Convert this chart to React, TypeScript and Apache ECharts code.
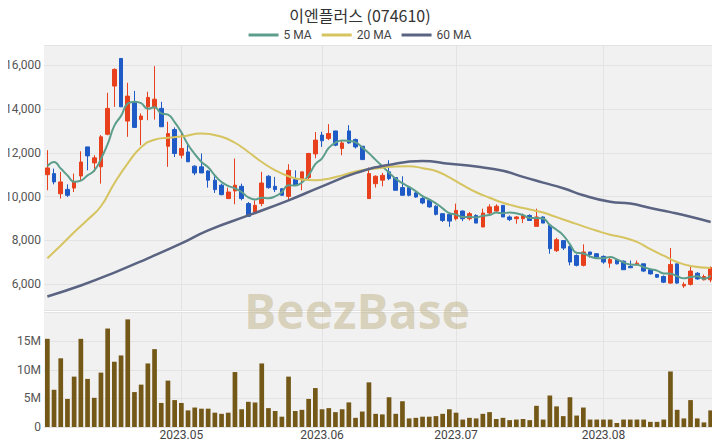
import React, { useEffect, useRef } from "react";
import * as echarts from "echarts";

const chartTitle = "이엔플러스 (074610)";

const opens = [
  11000, 11050, 10130, 10330, 10390, 10940, 12270, 11540, 11360, 12850,
  15050, 16310, 13450, 14330, 13520, 14100, 14060, 14030, 12300, 13060,
  11890, 12040, 11390, 11360, 11170, 10750, 10520, 9910, 10260, 10470,
  9680, 9300, 9680, 10930, 10470, 10360, 10010, 10780, 10820, 10870,
  11950, 12810, 12650, 13000, 12200, 13000, 12610, 12300, 9910, 10590,
  10750, 11130, 10870, 10410, 10410, 10170, 9910, 9830, 9560, 9220,
  9190, 8990, 9340, 8990, 9140, 8610, 9250, 9340, 9600, 9070,
  8990, 8990, 9140, 8640, 9070, 8690, 7530, 7990, 7720, 7310,
  6860, 7470, 7390, 7270, 6960, 7110, 7050, 6810, 6900, 6930,
  6660, 6440, 6350, 6050, 6930, 5920, 5990, 6500, 6200, 6200,
];
const closes = [
  11310, 10670, 10670, 10060, 10670, 11580, 11860, 11770, 12730, 14030,
  15810, 14100, 14590, 13160, 13680, 14530, 14450, 13190, 12880, 11970,
  12200, 11590, 11080, 11080, 10750, 10320, 10090, 10210, 10520, 9910,
  9100, 9600, 10620, 10410, 10320, 10060, 11200, 10520, 11130, 11970,
  12580, 12550, 12880, 12350, 12450, 12450, 12270, 11690, 11050, 10930,
  10970, 10820, 10290, 10060, 10060, 9980, 9710, 9530, 9190, 8910,
  8880, 9370, 8990, 9220, 8790, 9250, 9530, 9560, 9070, 8950,
  9070, 9140, 8910, 9070, 8790, 7620, 8030, 7650, 7010, 6860,
  7470, 7360, 7240, 7010, 7130, 6930, 6660, 6750, 6960, 6600,
  6470, 6320, 6090, 6900, 6050, 5990, 6600, 6240, 6350, 6750,
];
const lows = [
  10290, 10560, 9910, 9980, 10210, 10750, 11200, 11130, 10590, 12800,
  14100, 14100, 12730, 13160, 12350, 13490, 13520, 13190, 11360, 11810,
  11740, 11590, 10980, 11080, 10410, 10170, 10060, 9910, 9650, 9830,
  9100, 9250, 9560, 10360, 10210, 10060, 9830, 10520, 10290, 10750,
  11750, 12270, 12580, 12300, 11890, 12420, 12200, 11690, 9910, 10410,
  10470, 10750, 10290, 10060, 10010, 9950, 9650, 9490, 9140, 8840,
  8620, 8910, 8880, 8910, 8790, 8610, 9190, 9300, 9070, 8880,
  8760, 8790, 8910, 8640, 8790, 7390, 7470, 7560, 6860, 6810,
  6810, 7210, 7210, 6930, 6750, 6900, 6660, 6750, 6860, 6550,
  6440, 6290, 6050, 6020, 6020, 5830, 5940, 6200, 6170, 6090,
];
const highs = [
  12120, 11280, 11130, 10560, 11050, 12070, 12270, 11890, 12810, 14740,
  15860, 16310, 15200, 14830, 13800, 14790, 15960, 14330, 13420, 13160,
  12960, 12420, 11430, 11970, 11200, 10930, 10590, 10410, 11740, 10590,
  9750, 9830, 11130, 10980, 10900, 10360, 11480, 11200, 11130, 12000,
  12950, 12960, 13310, 13000, 12580, 13260, 12650, 12300, 11330, 10970,
  11080, 11660, 10870, 10930, 10470, 10260, 10010, 9860, 9600, 9250,
  9220, 9680, 9370, 9300, 9190, 9450, 9650, 9650, 9600, 9140,
  9100, 9220, 9190, 9450, 9100, 8690, 8120, 8000, 7770, 7360,
  7820, 7470, 7420, 7310, 7210, 7160, 7080, 7080, 7080, 6930,
  6700, 6470, 6400, 7650, 6930, 6090, 6810, 6550, 6440, 6810,
];
// trading volume, millions of shares
const volumesM = [
  15.4, 6.5, 12.0, 4.9, 8.8, 15.4, 8.4, 5.1, 9.5, 17.2,
  11.4, 12.5, 18.8, 6.1, 7.4, 11.1, 13.6, 4.2, 8.1, 4.7,
  4.2, 2.9, 3.4, 3.2, 3.2, 2.5, 2.3, 2.5, 9.6, 3.1,
  4.4, 4.3, 11.1, 3.3, 2.8, 1.8, 8.8, 2.8, 3.0, 4.9,
  6.8, 3.1, 3.3, 2.6, 3.1, 4.3, 1.6, 2.7, 7.8, 2.3,
  2.2, 5.2, 2.3, 4.5, 1.5, 1.6, 1.8, 1.8, 1.9, 2.3,
  3.1, 2.5, 1.3, 1.6, 1.5, 2.3, 2.6, 1.4, 1.6, 1.2,
  1.3, 1.4, 1.2, 3.7, 1.3, 5.5, 3.6, 1.9, 5.2, 2.0,
  3.4, 1.3, 1.3, 1.3, 1.3, 0.7, 1.3, 1.3, 1.3, 1.3,
  0.9, 0.9, 1.3, 9.7, 3.0, 1.5, 4.7, 1.5, 0.8, 2.9,
];
// 5-day MA for the first four days (earlier closes are not shown)
const ma5Head = [11390, 11580, 11280, 10970];
// [day index, value] read from the 20 MA and 60 MA curves
const ma20Points = [
  [0, 7180], [2, 7770], [4, 8370], [6, 8940], [8, 9560], [10, 10610],
  [12, 11520], [14, 12260], [16, 12600], [18, 12690], [20, 12740], [23, 12880],
  [26, 12730], [28, 12460], [30, 12040], [32, 11580], [34, 11200], [36, 10930],
  [38, 10780], [40, 10750], [42, 10820], [44, 10970], [46, 11150], [48, 11250],
  [50, 11320], [52, 11380], [54, 11390], [56, 11300], [58, 11170], [60, 10880],
  [62, 10520], [64, 10200], [66, 9950], [68, 9720], [70, 9550], [72, 9410],
  [74, 9270], [76, 9060], [78, 8850], [80, 8640], [82, 8440], [84, 8260],
  [86, 8130], [88, 7930], [90, 7600], [92, 7300], [94, 7010], [96, 6830], [99, 6740],
];
const ma60Points = [
  [0, 5440], [5, 5940], [10, 6530], [15, 7180], [20, 7860], [24, 8460],
  [30, 9140], [36, 9830], [41, 10470], [46, 11070], [51, 11450], [56, 11630],
  [60, 11500], [64, 11370], [68, 11180], [71, 10900], [74, 10640], [77, 10380],
  [80, 10060], [84, 9760], [87, 9680], [90, 9480], [93, 9290], [96, 9080], [99, 8840],
];
const xTickIndex = [20, 41, 61, 83];
const xTickLabels = ["2023.05", "2023.06", "2023.07", "2023.08"];
const legendNames = ["5 MA", "20 MA", "60 MA"];

const UP = "#e8401c";
const DOWN = "#1f5bc6";
const VOL = "#735818";
const MA_COLORS = ["#5c9e8b", "#d6c460", "#5a6381"];

export default function App() {
  const ref = useRef<HTMLDivElement>(null);
  useEffect(() => {
    if (!ref.current) return;
    const chart = echarts.init(ref.current, undefined, { renderer: "svg" });
    const categories = closes.map((_, i) => String(i));
    const candles = opens.map((o, i) => [o, closes[i], lows[i], highs[i]]);
    const ma5 = closes.map((_, i) => {
      if (i < 4) return ma5Head[i];
      let s = 0;
      for (let k = i - 4; k <= i; k++) s += closes[k];
      return Math.round(s / 5);
    });
    const tickSet = new Set(xTickIndex);
    const showTick = (idx: number) => tickSet.has(idx);
    const labelFor = (_v: string, idx: number) => {
      const p = xTickIndex.indexOf(idx);
      return p >= 0 ? xTickLabels[p] : "";
    };
    const gridLine = { show: true, interval: showTick, alignWithLabel: true, lineStyle: { color: "#e3e3e3", width: 1 } } as any;
    const font = "Roboto, 'Noto Sans', sans-serif";
    chart.setOption({
      animation: false,
      textStyle: { fontFamily: font },
      title: {
        text: chartTitle,
        left: "center",
        top: 2,
        textStyle: { fontSize: 16, fontWeight: "normal", color: "#333", fontFamily: "'Noto Sans CJK KR', Roboto, sans-serif" },
      },
      legend: {
        data: legendNames.map((n) => ({ name: n, icon: "rect" })),
        top: 24,
        left: "center",
        itemWidth: 30,
        itemHeight: 3,
        itemGap: 10,
        textStyle: { fontSize: 12, color: "#444" },
      },
      graphic: [
        {
          type: "text",
          x: 357,
          y: 310,
          z: 1,
          silent: true,
          style: {
            text: "BeezBase",
            font: "bold 48px 'Open Sans', sans-serif",
            fill: "rgba(185,170,120,0.45)",
            align: "center",
            verticalAlign: "middle",
          },
        },
      ],
      grid: [
        { left: 44, right: 6, top: 45, height: 265, show: true, backgroundColor: "#f1f1f1", borderWidth: 0 },
        { left: 44, right: 6, top: 312.5, height: 114.5, show: true, backgroundColor: "#f1f1f1", borderWidth: 0 },
      ],
      xAxis: [
        {
          type: "category",
          gridIndex: 0,
          data: categories,
          boundaryGap: true,
          axisLine: { show: false },
          axisTick: { show: false },
          axisLabel: { show: false },
          splitLine: gridLine,
        },
        {
          type: "category",
          gridIndex: 1,
          data: categories,
          boundaryGap: true,
          axisLine: { show: false },
          axisTick: { show: false },
          axisLabel: { show: true, interval: showTick, formatter: labelFor, fontSize: 12, color: "#444", margin: 2 },
          splitLine: gridLine,
        },
      ],
      yAxis: [
        {
          type: "value",
          gridIndex: 0,
          min: 4820,
          max: 16925,
          axisLine: { show: false },
          axisTick: { show: false },
          axisLabel: {
            fontSize: 12,
            color: "#555",
            margin: 3,
            showMinLabel: false,
            showMaxLabel: false,
            formatter: (v: number) => v.toLocaleString("en-US"),
          },
          splitLine: { show: true, lineStyle: { color: "#e3e3e3", width: 1 } },
        },
        {
          type: "value",
          gridIndex: 1,
          min: 0,
          max: 20,
          interval: 5,
          axisLine: { show: false },
          axisTick: { show: false },
          axisLabel: {
            fontSize: 12,
            color: "#555",
            margin: 3,
            showMaxLabel: false,
            formatter: (v: number) => (v === 0 ? "0" : v + "M"),
          },
          splitLine: { show: true, lineStyle: { color: "#e3e3e3", width: 1 } },
        },
      ],
      series: [
        {
          type: "candlestick",
          name: "price",
          xAxisIndex: 0,
          yAxisIndex: 0,
          data: candles,
          barWidth: "62%",
          itemStyle: { color: UP, color0: DOWN, borderColor: UP, borderColor0: DOWN, borderWidth: 1 },
          z: 3,
        },
        {
          type: "line",
          name: legendNames[0],
          xAxisIndex: 0,
          yAxisIndex: 0,
          data: ma5,
          smooth: true,
          symbol: "none",
          lineStyle: { color: MA_COLORS[0], width: 2 },
          itemStyle: { color: MA_COLORS[0] },
          z: 4,
        },
        {
          type: "line",
          name: legendNames[1],
          xAxisIndex: 0,
          yAxisIndex: 0,
          data: ma20Points,
          smooth: true,
          symbol: "none",
          lineStyle: { color: MA_COLORS[1], width: 2 },
          itemStyle: { color: MA_COLORS[1] },
          z: 4,
        },
        {
          type: "line",
          name: legendNames[2],
          xAxisIndex: 0,
          yAxisIndex: 0,
          data: ma60Points,
          smooth: true,
          symbol: "none",
          lineStyle: { color: MA_COLORS[2], width: 2.5 },
          itemStyle: { color: MA_COLORS[2] },
          z: 4,
        },
        {
          type: "bar",
          name: "volume",
          xAxisIndex: 1,
          yAxisIndex: 1,
          data: volumesM,
          barWidth: "70%",
          itemStyle: { color: VOL },
          z: 3,
        },
      ],
    });
    return () => chart.dispose();
  }, []);
  return <div ref={ref} style={{ width: 720, height: 448, margin: -8 }} />;
}
